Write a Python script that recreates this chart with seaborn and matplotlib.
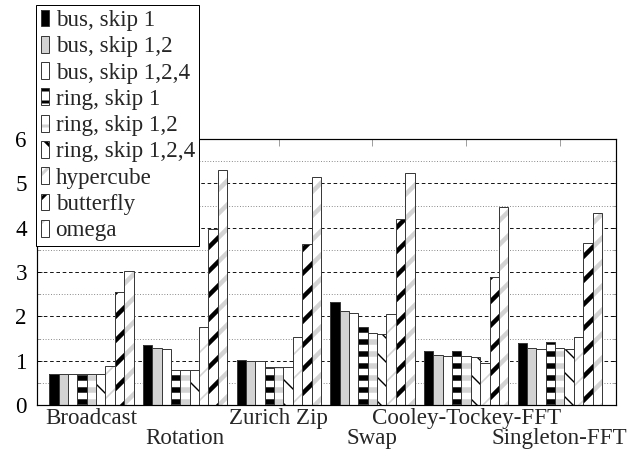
import matplotlib
matplotlib.use("Agg")
import matplotlib.pyplot as plt
from matplotlib.patches import Patch
from matplotlib.ticker import MultipleLocator
import pandas as pd
import seaborn as sns

# Benchmarks (x axis)
categories = ["Broadcast", "Rotation", "Zurich Zip", "Swap",
              "Cooley-Tockey-FFT", "Singleton-FFT"]

# Network topologies (hue)
series = ["bus, skip 1", "bus, skip 1,2", "bus, skip 1,2,4",
          "ring, skip 1", "ring, skip 1,2", "ring, skip 1,2,4",
          "hypercube", "butterfly", "omega"]

bus_skip1 = [0.69, 1.35, 1.02, 2.32, 1.22, 1.39]
bus_skip12 = [0.71, 1.28, 0.99, 2.11, 1.12, 1.28]
bus_skip124 = [0.71, 1.26, 0.99, 2.07, 1.11, 1.26]
ring_skip1 = [0.69, 0.79, 0.85, 1.77, 1.22, 1.41]
ring_skip12 = [0.69, 0.80, 0.85, 1.62, 1.11, 1.28]
ring_skip124 = [0.70, 0.80, 0.85, 1.60, 1.08, 1.27]
hypercube = [0.89, 1.77, 1.53, 2.05, 0.94, 1.54]
butterfly = [2.54, 3.97, 3.63, 4.19, 2.88, 3.66]
omega = [3.03, 5.30, 5.15, 5.23, 4.46, 4.32]

values = [bus_skip1, bus_skip12, bus_skip124, ring_skip1, ring_skip12,
          ring_skip124, hypercube, butterfly, omega]

y_ticks = [0, 1, 2, 3, 4, 5, 6]

df = pd.DataFrame(
    [(c, s, v[i]) for s, v in zip(series, values) for i, c in enumerate(categories)],
    columns=["benchmark", "network", "value"],
)

GRAY = "#d3d3d3"
EDGE = "#3a3a3a"
FS = 23
# face colour, hatch, hatch colour, hatch line width
styles = [
    ("black", "", "black", 0),
    (GRAY, "", GRAY, 0),
    ("white", "", "white", 0),
    ("white", "-", "black", 5.5),
    ("white", "-", GRAY, 5.5),
    ("white", "\\", "black", 1.4),
    ("white", "/", GRAY, 1.6),
    ("white", "/", "black", 4.5),
    ("white", "/", GRAY, 4.5),
]

sns.set_style("white")
plt.rcParams["font.family"] = ["Liberation Serif", "DejaVu Serif"]
plt.rcParams["hatch.linewidth"] = 3.0

DPI = 72
fig = plt.figure(figsize=(633 / DPI, 457 / DPI), dpi=DPI)
ax = fig.add_axes([37 / 633, 52 / 457, 579 / 633, 266 / 457])

palette = dict(zip(series, [s[0] for s in styles]))

# hatched fill layer
sns.barplot(data=df, x="benchmark", y="value", hue="network",
            order=categories, hue_order=series, palette=palette,
            width=0.9, gap=0, errorbar=None, legend=False, ax=ax,
            linewidth=0, saturation=1)
for cont, (face, hatch, hcol, hlw) in zip(ax.containers, styles):
    for bar in cont:
        bar.set_facecolor(face)
        bar.set_edgecolor(hcol)
        bar.set_linewidth(0)
        if hatch:
            bar.set_hatch(hatch)
            if hasattr(bar, "set_hatch_linewidth"):
                bar.set_hatch_linewidth(hlw)
        bar.set_zorder(2)

# outline layer
n_fill = len(ax.patches)
sns.barplot(data=df, x="benchmark", y="value", hue="network",
            order=categories, hue_order=series, fill=False,
            width=0.9, gap=0, errorbar=None, legend=False, ax=ax,
            linewidth=1.0, saturation=1)
for bar in ax.patches[n_fill:]:
    bar.set_edgecolor(EDGE)
    bar.set_facecolor("none")
    bar.set_linewidth(1.0)
    bar.set_zorder(3)

ax.set_xlim(-0.58, 5.6)
ax.set_ylim(0, 6)
ax.set_yticks(y_ticks)
ax.set_yticklabels([str(t) for t in y_ticks])
ax.yaxis.set_minor_locator(MultipleLocator(0.5))
ax.set_xticks(range(len(categories)))
ax.set_xticklabels(categories)
ax.set_xlabel("")
ax.set_ylabel("")

ax.set_axisbelow(True)
ax.grid(True, which="major", axis="y", color="black", linestyle=(0, (4, 3)), linewidth=0.9)
ax.grid(True, which="minor", axis="y", color="#777777", linestyle=(0, (1, 2)), linewidth=0.9)
ax.grid(False, axis="x")

ax.tick_params(axis="y", which="both", direction="in", left=True, right=True,
               length=5, width=0.8, labelsize=FS, pad=10, colors="black")
ax.tick_params(axis="y", which="minor", length=3, color="#888888")
ax.tick_params(axis="x", which="major", direction="in", top=True, bottom=True,
               length=7, width=0.8, color="#888888", labelsize=FS, pad=3)
# every second benchmark name sits on a lower row
for i, t in enumerate(ax.xaxis.get_major_ticks()):
    t.tick1line.set_linestyle(":")
    t.tick2line.set_linestyle(":")
    if i % 2:
        t.set_pad(3 + 20)

for sp in ax.spines.values():
    sp.set_visible(True)
    sp.set_color("black")
    sp.set_linewidth(1.2)

# legend entries: hatched swatch with an outline on top
handles = []
for face, hatch, hcol, hlw in styles:
    p1 = Patch(facecolor=face, edgecolor=hcol, hatch=hatch or None, linewidth=0)
    if hatch and hasattr(p1, "set_hatch_linewidth"):
        p1.set_hatch_linewidth(hlw)
    p2 = Patch(facecolor="none", edgecolor=EDGE, linewidth=1.0)
    handles.append((p1, p2))

leg = fig.legend(handles, series, loc="upper left",
                 bbox_to_anchor=(36 / 633, 1 - 5 / 457), borderaxespad=0,
                 fontsize=FS, frameon=True, fancybox=False, framealpha=1,
                 edgecolor="black", handlelength=0.35, handleheight=0.75,
                 handletextpad=0.3, labelspacing=0.21, borderpad=0.2)
leg.get_frame().set_linewidth(1.0)

fig.savefig("out.png", dpi=DPI)
